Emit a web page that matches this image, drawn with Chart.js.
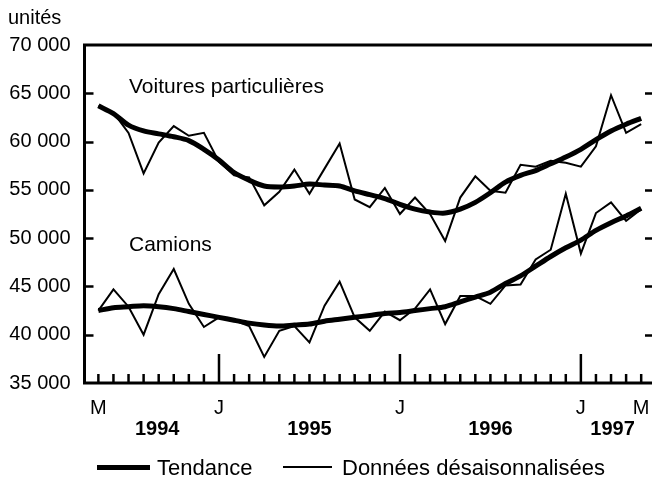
<!DOCTYPE html>
<html>
<head>
<meta charset="utf-8">
<script src="https://cdn.jsdelivr.net/npm/chart.js@4.4.1/dist/chart.umd.min.js"></script>
<style>
  body { margin: 0; overflow: hidden; background: #fff; font-family: "Liberation Sans", Arial, sans-serif; }
  #wrap { position: absolute; left: 0; top: 0; width: 660px; height: 484px; }
  .unit { position: absolute; left: 8px; top: 6px; font-size: 20px; color: #000; }
  .key { position: absolute; top: 455px; font-size: 22px; line-height: 26px; color: #000; }
  .swatch { position: absolute; background: #000; }
</style>
</head>
<body>
<div id="wrap"><canvas id="chart" width="660" height="484"></canvas></div>
<div class="unit">unités</div>
<div class="swatch" style="left:97px;top:465px;width:53px;height:5px"></div>
<div class="key" style="left:157px">Tendance</div>
<div class="swatch" style="left:283px;top:466px;width:49px;height:2px"></div>
<div class="key" style="left:342px">Données désaisonnalisées</div>
<script>
// months: mai 1994 (0) .. mai 1997 (36)
const carsRaw = [63700, 63000, 60900, 56700, 59900, 61600, 60600, 60900, 57900, 56500,
  56300, 53400, 54800, 57100, 54600, 57200, 59800, 54000, 53200, 55200,
  52500, 54200, 52500, 49700, 54200, 56400, 54900, 54700, 57600, 57400,
  58000, 57800, 57400, 59500, 64800, 60900, 61800];
const carsTrend = [63700, 62900, 61700, 61100, 60800, 60500, 60100, 59200, 58100, 56800,
  56000, 55400, 55300, 55400, 55600, 55500, 55400, 54900, 54500, 54100,
  53500, 53000, 52700, 52600, 53000, 53700, 54700, 55800, 56500, 57000,
  57700, 58400, 59200, 60200, 61100, 61800, 62400];
const trucksRaw = [42500, 44700, 42900, 40000, 44200, 46800, 43200, 40800, 41800, 41500,
  40900, 37700, 40400, 40900, 39200, 43000, 45500, 41800, 40400, 42400,
  41500, 42700, 44700, 41100, 44000, 44000, 43200, 45100, 45200, 47800,
  48800, 54600, 48400, 52600, 53700, 51800, 53000];
const trucksTrend = [42500, 42800, 42900, 43000, 42900, 42700, 42400, 42100, 41800, 41500,
  41200, 41000, 40900, 41000, 41100, 41400, 41600, 41800, 42000, 42200,
  42300, 42500, 42700, 42900, 43400, 43900, 44400, 45300, 46100, 47100,
  48100, 49000, 49800, 50800, 51600, 52300, 53100];

const monthPos = [0, 8, 20, 32, 36];
const monthLabels = ['M', 'J', 'J', 'J', 'M'];
const yearPos = [3.9, 14, 26, 34.1];
const yearLabels = ['1994', '1995', '1996', '1997'];
const yearTicks = [8, 20, 32];   // long ticks at january

const FONT = '"Liberation Sans", Arial, sans-serif';
const pts = arr => arr.map((v, i) => ({x: i, y: v}));

const frame = {
  id: 'frame',
  afterDatasetsDraw(chart) {
    const {ctx, chartArea: a, scales: {x, y}} = chart;
    ctx.save();
    ctx.strokeStyle = '#000';
    ctx.lineWidth = 2.5;
    // y ticks, inward on both sides
    [40000, 45000, 50000, 55000, 60000, 65000].forEach(v => {
      const py = Math.round(y.getPixelForValue(v)) + 0.5;
      ctx.beginPath();
      ctx.moveTo(a.left, py); ctx.lineTo(a.left + 9, py);
      ctx.moveTo(a.right - 9, py); ctx.lineTo(a.right, py);
      ctx.stroke();
    });
    // month ticks
    for (let i = 0; i <= 36; i++) {
      const px = x.getPixelForValue(i);
      const len = yearTicks.includes(i) ? 29 : 9;
      ctx.beginPath();
      ctx.moveTo(px, a.bottom); ctx.lineTo(px, a.bottom - len);
      ctx.stroke();
    }
    ctx.lineWidth = 3;
    ctx.strokeRect(a.left, a.top, a.right - a.left, a.bottom - a.top);
    // series names
    ctx.fillStyle = '#000';
    ctx.font = '21px ' + FONT;
    ctx.textBaseline = 'middle';
    ctx.fillText('Voitures particulières', 129, 87);
    ctx.fillText('Camions', 129, 245);
    ctx.restore();
  }
};

const thick = {borderColor: '#000', borderWidth: 5, pointRadius: 0, tension: 0.3, order: 2};
const thin = {borderColor: '#000', borderWidth: 2, pointRadius: 0, tension: 0, order: 1};

new Chart(document.getElementById('chart'), {
  type: 'line',
  data: {
    datasets: [
      {label: 'Voitures tendance', data: pts(carsTrend), ...thick},
      {label: 'Camions tendance', data: pts(trucksTrend), ...thick},
      {label: 'Voitures désaisonnalisées', data: pts(carsRaw), ...thin},
      {label: 'Camions désaisonnalisées', data: pts(trucksRaw), ...thin}
    ]
  },
  options: {
    responsive: false,
    animation: false,
    layout: {padding: {top: 45, right: 6, left: 0, bottom: 0}},
    plugins: {legend: {display: false}, tooltip: {enabled: false}},
    scales: {
      x: {
        type: 'linear', position: 'bottom', min: -0.92, max: 36.85,
        grid: {display: false}, border: {display: false},
        afterBuildTicks: s => { s.ticks = monthPos.map(v => ({value: v})); },
        afterFit: s => { s.height = 35; },
        ticks: {
          autoSkip: false, maxRotation: 0, padding: 5, color: '#000',
          font: {family: FONT, size: 20},
          callback: (v, i) => monthLabels[i]
        }
      },
      x2: {
        type: 'linear', position: 'bottom', min: -0.92, max: 36.85,
        grid: {display: false}, border: {display: false},
        afterBuildTicks: s => { s.ticks = yearPos.map(v => ({value: v})); },
        afterFit: s => { s.height = 66; },
        ticks: {
          autoSkip: false, maxRotation: 0, padding: -9, color: '#000',
          font: {family: FONT, size: 20, weight: 'bold'},
          callback: (v, i) => yearLabels[i]
        }
      },
      y: {
        min: 35000, max: 70000,
        grid: {display: false}, border: {display: false},
        afterFit: s => { s.width = 84.5; },
        ticks: {
          stepSize: 5000, padding: 6, color: '#000',
          font: {family: FONT, size: 20},
          callback: v => String(v).replace(/\B(?=(\d{3})+(?!\d))/g, ' ')
        }
      }
    }
  },
  plugins: [frame]
});
</script>
</body>
</html>
